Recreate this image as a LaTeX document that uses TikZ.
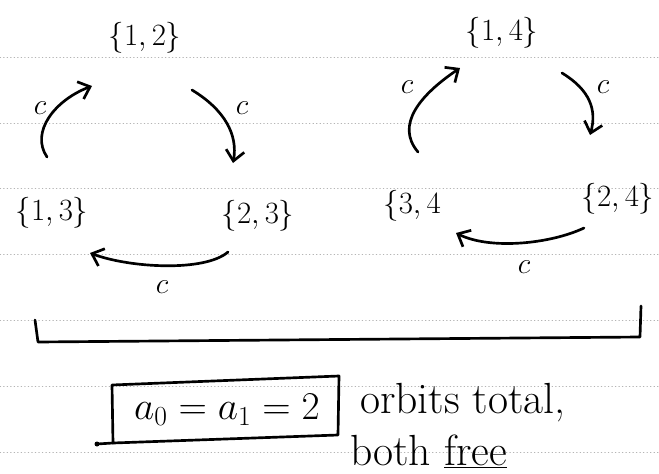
\RequirePackage{fix-cm}
\documentclass[tikz,border=0pt]{standalone}
\usetikzlibrary{arrows.meta}
\definecolor{ruleGray}{HTML}{B4B4B4}
\tikzset{
  orbit sketch/.style={
    line width=1.9pt, line cap=round, line join=round,
    >={Straight Barb[length=2.6mm,width=4.6mm]},
    every node/.style={inner sep=0pt, outer sep=0pt}
  },
  orbit set/.style={font=\fontsize{22}{26}\selectfont},
  orbit label/.style={font=\fontsize{21}{25}\selectfont},
  orbit note/.style={font=\fontsize{31}{35}\selectfont, anchor=base west},
  paper rule/.style={draw=ruleGray, dotted, line width=0.5pt}
}
\newcommand{\PaperRules}[1]{%
  \foreach \y in {#1} \draw[paper rule] (0,\y) -- (659,\y);
}
\begin{document}
\begin{tikzpicture}[orbit sketch,x=0.025cm,y=-0.025cm]
    \useasboundingbox (0,0) rectangle (659,474);
    \PaperRules{57,123,188,254,320,386,452}
    \node[orbit set] (s12) at (145,38) {$\{1,2\}$};
    \node[orbit set] (s13) at (52,213) {$\{1,3\}$};
    \node[orbit set] (s23) at (258,216) {$\{2,3\}$};
    \node[orbit set] (s14) at (502,33) {$\{1,4\}$};
    \node[orbit set] (s34) at (412,206) {$\{3,4$};
    \node[orbit set] (s24) at (618,199) {$\{2,4\}$};
    \coordinate (l1s) at (47,157);  \coordinate (l1e) at (92,86);
    \coordinate (l2s) at (192,90);  \coordinate (l2e) at (233,163);
    \coordinate (l3s) at (228,252); \coordinate (l3e) at (90,253);
    \coordinate (r1s) at (418,152); \coordinate (r1e) at (460,68);
    \coordinate (r2s) at (562,73);  \coordinate (r2e) at (590,135);
    \coordinate (r3s) at (584,228); \coordinate (r3e) at (456,233);
    \draw[->] (l1s) .. controls (30,132) and (55,100) .. (l1e);
    \draw[->] (l2s) .. controls (225,110) and (238,135) .. (l2e);
    \draw[->] (l3s) .. controls (205,272) and (130,268) .. (l3e);
    \draw[->] (r1s) .. controls (395,125) and (420,95) .. (r1e);
    \draw[->] (r2s) .. controls (590,90) and (597,110) .. (r2e);
    \draw[->] (r3s) .. controls (550,244) and (490,250) .. (r3e);
    \node[orbit label] (cl1) at (40,108) {$c$};
    \node[orbit label] (cl2) at (242,108) {$c$};
    \node[orbit label] (cl3) at (162,287) {$c$};
    \node[orbit label] (cr1) at (407,87) {$c$};
    \node[orbit label] (cr2) at (603,87) {$c$};
    \node[orbit label] (cr3) at (524,267) {$c$};
    \draw (35,320) -- (38,342) -- (640,337) -- (641,306);
    \node[font=\fontsize{28}{32}\selectfont] (total) at (227,410) {$a_0=a_1=2$};
    \draw (112,385) -- (339,376) -- (338,435) -- (113,443) -- cycle;
    \draw (113,443) -- (97,444);
    \fill (97,444) circle (2.5);
    \node[orbit note] (orbits) at (360,413) {orbits total,};
    \node[orbit note] (both) at (350,465) {both \underline{free}};
\end{tikzpicture}
\end{document}
